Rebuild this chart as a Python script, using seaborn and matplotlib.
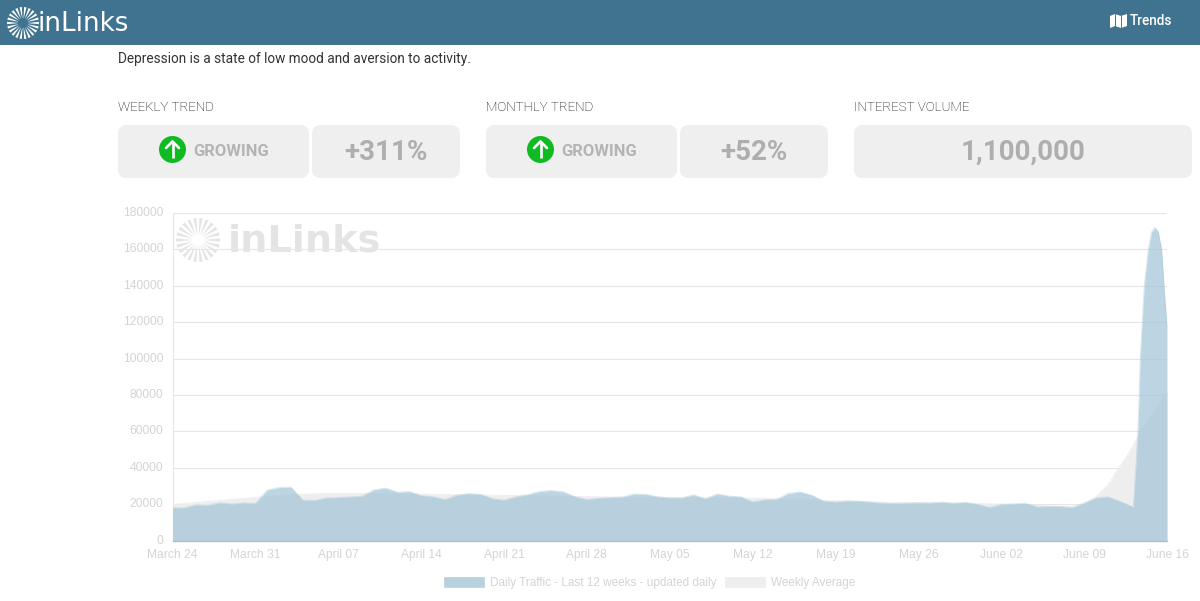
import numpy as np
import pandas as pd
import seaborn as sns
import matplotlib.pyplot as plt
from matplotlib.patches import FancyBboxPatch, Patch, Polygon, Circle, Rectangle
from matplotlib.transforms import ScaledTranslation

# values, one per day from March 24, finer on the spike
traffic_days = list(range(82)) + [81.15, 81.35, 81.54, 81.65, 81.74, 81.91, 82.08, 82.42, 82.70,
                                  82.97, 83.26, 83.54, 83.74, 83.97, 84]
daily_traffic = [18000, 18000, 19600, 19400, 20700, 20100, 20700, 20400, 27700, 29100,
                 29300, 22200, 22000, 23400, 23600, 24000, 24300, 27800, 28800, 26500,
                 26900, 24700, 24000, 22500, 24900, 25800, 25400, 23000, 22200, 24000,
                 25200, 26900, 27500, 26700, 24000, 22500, 23300, 23600, 23800, 25600,
                 25300, 24000, 23400, 23400, 25100, 22900, 25600, 24400, 24000, 21200,
                 22400, 22500, 25800, 26700, 24900, 21600, 21200, 21800, 21600, 21000,
                 20500, 20300, 20500, 20700, 20600, 21100, 20500, 21000, 19800, 18200,
                 19800, 20100, 20500, 18500, 18700, 18700, 18000, 20700, 23400, 24000,
                 21600, 18800,
                 18000, 38600, 59700, 79900, 100000, 120000, 140000, 160000, 169600,
                 172000, 169600, 160000, 140000, 120000, 119000]
avg_days = list(range(85))
weekly_average = [19800, 20300, 20900, 21500, 22000, 22600, 23100, 23700, 24200, 24700,
                  25100, 25400, 25600, 25800, 25800, 25800, 25800, 25800, 25700, 25700,
                  25600, 25500, 25400, 25300, 25200, 25100, 25000, 24900, 24800, 24700,
                  24600, 24500, 24400, 24300, 24200, 24100, 24000, 23900, 23900, 23800,
                  23700, 23700, 23600, 23500, 23500, 23400, 23400, 23300, 23300, 23200,
                  23100, 23000, 22900, 22700, 22300, 22000, 21800, 21600, 21400, 21300,
                  21100, 21000, 20900, 20800, 20700, 20500, 20400, 20300, 20200, 20100,
                  20000, 19800, 19500, 19200, 19000, 18800, 18700, 19800, 24000, 30400,
                  40500, 50500, 62500, 71600, 81700]
date_labels = ["March 24", "March 31", "April 07", "April 14", "April 21", "April 28", "May 05",
               "May 12", "May 19", "May 26", "June 02", "June 09", "June 16"]
y_ticks = [0, 20000, 40000, 60000, 80000, 100000, 120000, 140000, 160000, 180000]

traffic_df = pd.DataFrame({"day": traffic_days, "visits": daily_traffic}).sort_values("day")
average_df = pd.DataFrame({"day": avg_days, "visits": weekly_average})

sns.set_theme(style="white")
plt.rcParams["font.family"] = ["Liberation Sans", "DejaVu Sans"]

W, H = 1200, 601
fig = plt.figure(figsize=(W / 100, H / 100), dpi=100, facecolor="white")

# page furniture, drawn in pixel coordinates
page = fig.add_axes([0, 0, 1, 1], zorder=0)
page.set_xlim(0, W)
page.set_ylim(H, 0)
page.axis("off")

BLUE = "#3f7390"
CARD = "#efefef"
page.add_patch(Rectangle((0, 0), W, 45, color=BLUE, lw=0))


def card(x, w):
    page.add_patch(FancyBboxPatch((x + 9, 125 + 9), w - 18, 53 - 18, boxstyle="round,pad=9,rounding_size=9",
                                  fc=CARD, ec="none"))


def burst(cx, cy, r0, r1, color, z=5, n=22):
    # spokes get wider going outward
    w0, w1 = 0.02, 0.075
    for a in np.linspace(0, 2 * np.pi, n, endpoint=False):
        pts = [(cx + r0 * np.cos(a - w0), cy + r0 * np.sin(a - w0)), (cx + r1 * np.cos(a - w1), cy + r1 * np.sin(a - w1)),
               (cx + r1 * np.cos(a + w1), cy + r1 * np.sin(a + w1)), (cx + r0 * np.cos(a + w0), cy + r0 * np.sin(a + w0))]
        page.add_patch(Polygon(pts, fc=color, ec="none", zorder=z))


def growing(cx):
    page.add_patch(Circle((cx, 149.5), 13.5, fc="#10bb22", ec="none"))
    page.plot([cx, cx], [158, 142], color="white", lw=1.9, solid_capstyle="butt")
    page.plot([cx - 6.5, cx, cx + 6.5], [148, 141.5, 148], color="white", lw=1.9, solid_joinstyle="miter")
    page.text(cx + 21, 151.5, "GROWING", family="Roboto", weight="bold", fontsize=12, color="#b4b4b4",
              va="center", ha="left")


for x, w in [(118, 191), (312, 148), (486, 191), (680, 148), (854, 338)]:
    card(x, w)
growing(172.5)
growing(540.5)

page.text(386, 152, "+311%", family="Roboto", weight="bold", fontsize=20, color="#aeaeae", ha="center", va="center")
page.text(754, 152, "+52%", family="Roboto", weight="bold", fontsize=20, color="#aeaeae", ha="center", va="center")
page.text(1023, 152, "1,100,000", family="Roboto", weight="bold", fontsize=20, color="#aeaeae",
          ha="center", va="center")

page.text(118, 58.5, "Depression is a state of low mood and aversion to activity.", family="Roboto",
          fontsize=9.85, color="#333333", va="center")
for x, label in [(118, "WEEKLY TREND"), (486, "MONTHLY TREND"), (854, "INTEREST VOLUME")]:
    page.text(x, 107.5, label, family="Roboto", fontsize=9.6, color="#000000", va="center", weight="light")

# header logo and link
burst(23, 23, 5, 16, "white")
page.text(37, 24, "inLinks", family="DejaVu Sans", fontsize=18.8, color="white", va="center")
page.add_patch(Polygon([(1110, 16), (1115, 14), (1121, 16), (1127, 14), (1127, 26), (1121, 28), (1115, 26), (1110, 28)],
                       fc="white", ec="none"))
page.plot([1115, 1115], [14, 26], color=BLUE, lw=0.7)
page.plot([1121, 1121], [16, 28], color=BLUE, lw=0.7)
page.text(1130, 21, "Trends", family="Roboto", weight="medium", fontsize=9.8, color="white", va="center")

# the chart itself
L, R, T, B = 172.5, 1167, 213, 540.5
ax = fig.add_axes([L / W, 1 - B / H, (R - L) / W, (B - T) / H], zorder=1)
ax.patch.set_alpha(0)

ax.fill_between(average_df["day"], average_df["visits"], color="#eeeeee", lw=0, zorder=2)
sns.lineplot(data=average_df, x="day", y="visits", color="#eeeeee", lw=0.7, ax=ax, zorder=2)
ax.fill_between(traffic_df["day"], traffic_df["visits"], color="#a1c4d8", alpha=0.7, lw=0, zorder=3)
sns.lineplot(data=traffic_df, x="day", y="visits", color="#a1c4d8", alpha=0.4, lw=0.7, ax=ax, zorder=3,
             estimator=None)

ax.set_xlim(0, 84)
ax.set_ylim(0, 180000)
ax.set_xlabel("")
ax.set_ylabel("")
ax.set_xticks(list(range(0, 85, 7)))
ax.set_xticklabels(date_labels)
ax.set_yticks(y_ticks)
ax.grid(axis="y", color="#e6e6e6", lw=0.8)
ax.set_axisbelow(True)
ax.tick_params(axis="y", length=6.5, width=0.8, color="#e6e6e6", labelcolor="#d4d4d4", labelsize=8.64, pad=0)
ax.tick_params(axis="x", length=0, labelcolor="#d4d4d4", labelsize=8.64, pad=6)
# y labels sit a bit above their gridlines
nudge = ScaledTranslation(0, 1.5 / 100, fig.dpi_scale_trans)
for t in ax.get_yticklabels():
    t.set_transform(t.get_transform() + nudge)
for side in ["top", "right"]:
    ax.spines[side].set_visible(False)
ax.spines["left"].set_color("#e6e6e6")
ax.spines["left"].set_linewidth(0.8)
ax.spines["bottom"].set_color("#b9b9c0")
ax.spines["bottom"].set_linewidth(1)

# watermark
burst(198, 240, 6, 22, "#e4e4e4")
page.text(228, 241, "inLinks", family="DejaVu Sans", fontsize=27.5, color="#e4e4e4", va="center", weight="bold")

handles = [Patch(fc="#b8d1de", ec="#b8d1de", lw=0.5, label="Daily Traffic - Last 12 weeks - updated daily"),
           Patch(fc="#eeeeee", ec="#eeeeee", lw=0.5, label="Weekly Average")]
fig.legend(handles=handles, loc="center", bbox_to_anchor=(649.5 / W, 1 - 583 / H), ncol=2, frameon=False,
           handlelength=3.4, handleheight=1.0, handletextpad=0.5, columnspacing=0.75,
           labelcolor="#d4d4d4", prop=dict(family="Liberation Sans", size=8.5))

fig.savefig("out.png", dpi=100)
